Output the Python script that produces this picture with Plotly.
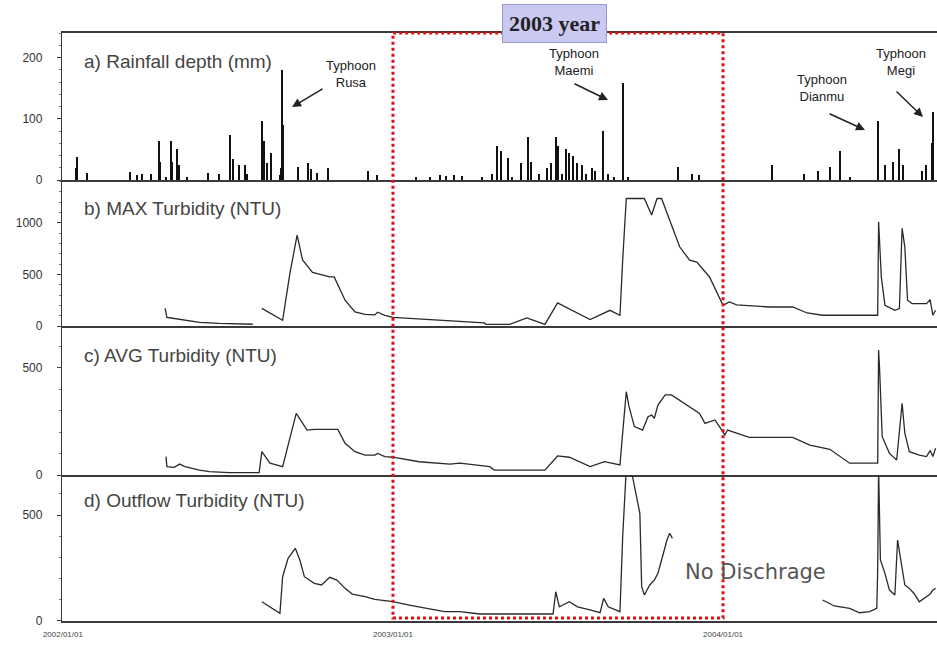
import plotly.graph_objects as go

# ---------------- data ----------------
rain_dates = [
    "2002-01-16", "2002-01-17", "2002-01-28", "2002-03-16", "2002-03-24", "2002-03-30", "2002-04-09",
    "2002-04-17", "2002-04-18", "2002-04-25", "2002-05-01", "2002-05-02", "2002-05-07", "2002-05-10",
    "2002-05-18", "2002-06-11", "2002-06-23", "2002-07-05", "2002-07-08", "2002-07-15", "2002-07-21",
    "2002-07-24", "2002-08-09", "2002-08-12", "2002-08-15", "2002-08-19", "2002-08-29", "2002-08-30",
    "2002-08-31", "2002-09-01", "2002-09-18", "2002-09-29", "2002-10-03", "2002-10-09", "2002-10-21",
    "2002-12-05", "2002-12-15",
    "2003-01-27", "2003-02-11", "2003-02-22", "2003-03-01", "2003-03-10", "2003-03-18",
    "2003-04-10", "2003-04-21", "2003-04-26", "2003-05-01", "2003-05-08", "2003-05-13", "2003-05-23",
    "2003-05-31", "2003-06-03", "2003-06-12", "2003-06-20", "2003-06-25", "2003-06-30", "2003-07-03",
    "2003-07-07", "2003-07-11", "2003-07-15", "2003-07-19", "2003-07-24", "2003-07-29", "2003-08-03",
    "2003-08-09", "2003-08-12", "2003-08-21", "2003-08-27", "2003-09-03", "2003-09-12", "2003-09-13",
    "2003-09-18", "2003-11-12", "2003-11-28", "2003-12-06",
    "2004-02-24", "2004-03-31", "2004-04-15", "2004-04-28", "2004-05-09", "2004-05-20", "2004-06-21",
    "2004-06-28", "2004-07-07", "2004-07-14", "2004-07-18", "2004-08-08", "2004-08-13", "2004-08-19",
    "2004-08-20",
]
rain_mm = [
    20, 37, 11, 13, 8, 10, 10,
    64, 30, 5, 64, 30, 50, 25,
    5, 12, 10, 74, 35, 25, 25,
    10, 97, 64, 28, 44, 8, 20,
    180, 90, 22, 28, 18, 12, 20,
    15, 8,
    5, 5, 8, 6, 8, 6,
    5, 10, 55, 47, 36, 5, 28,
    70, 30, 10, 20, 28, 70, 55,
    10, 50, 44, 40, 28, 25, 10,
    20, 15, 80, 10, 5, 158, 80,
    5, 22, 10, 8,
    25, 10, 15, 22, 47, 5, 97,
    25, 30, 50, 25, 15, 25, 60,
    111,
]

max_dates = [
    "2002-04-24", "2002-04-26", "2002-04-29", "2002-05-21", "2002-06-01", "2002-06-23", "2002-07-30",
    "2002-08-04",
    "2002-08-09", "2002-09-01", "2002-09-09", "2002-09-17", "2002-09-23", "2002-10-04", "2002-10-23",
    "2002-10-28", "2002-11-09", "2002-11-20", "2002-12-01", "2002-12-12", "2002-12-15", "2002-12-23",
    "2003-01-01", "2003-01-19", "2003-02-11", "2003-03-16", "2003-04-12", "2003-04-14", "2003-05-10",
    "2003-05-29", "2003-06-18", "2003-07-02", "2003-08-07", "2003-08-29", "2003-09-09", "2003-09-12",
    "2003-09-16", "2003-10-06", "2003-10-14", "2003-10-20", "2003-10-25", "2003-11-14", "2003-11-25",
    "2003-12-03", "2003-12-17", "2004-01-01", "2004-01-08", "2004-01-16", "2004-02-22", "2004-03-18",
    "2004-04-03", "2004-04-20", "2004-06-20", "2004-06-21", "2004-06-22", "2004-06-24", "2004-06-28",
    "2004-07-09", "2004-07-14", "2004-07-17", "2004-07-20", "2004-07-23", "2004-07-28", "2004-08-13",
    "2004-08-17", "2004-08-20", "2004-08-23",
]
max_ntu = [
    171, 84, 80, 55, 36, 26, 17,
    None,
    171, 55, 510, 880, 640, 520, 475,
    475, 250, 136, 113, 108, 133, 104,
    84, 75, 60, 45, 30, 16, 16,
    78, 16, 223, 62, 152, 104, 638,
    1235, 1235, 1075, 1235, 1235, 767, 638,
    618, 475, 201, 233, 205, 184, 184,
    126, 104, 104, 1010, 848, 475, 201,
    152, 169, 946, 767, 250, 217, 217,
    256, 104, 152,
]

avg_dates = [
    "2002-04-25", "2002-04-26", "2002-05-04", "2002-05-10", "2002-05-16", "2002-06-01", "2002-06-12",
    "2002-07-04", "2002-08-06", "2002-08-09", "2002-08-18", "2002-09-01", "2002-09-16", "2002-09-28",
    "2002-10-06", "2002-11-01", "2002-11-09", "2002-11-20", "2002-12-01", "2002-12-12", "2002-12-15",
    "2002-12-23", "2003-01-01", "2003-01-30", "2003-03-05", "2003-03-16", "2003-04-18", "2003-04-23",
    "2003-06-18", "2003-07-02", "2003-07-15", "2003-08-07", "2003-08-23", "2003-09-09", "2003-09-11",
    "2003-09-16", "2003-09-19", "2003-09-25", "2003-10-04", "2003-10-10", "2003-10-14", "2003-10-17",
    "2003-10-21", "2003-10-29", "2003-11-05", "2003-11-25", "2003-12-06", "2003-12-12", "2003-12-23",
    "2003-12-28", "2004-01-03", "2004-01-06", "2004-01-30", "2004-03-18", "2004-04-06", "2004-04-28",
    "2004-05-20", "2004-06-20", "2004-06-21", "2004-06-22", "2004-06-25", "2004-07-03", "2004-07-11",
    "2004-07-17", "2004-07-20", "2004-07-25", "2004-08-05", "2004-08-13", "2004-08-17", "2004-08-20",
    "2004-08-23",
]
avg_ntu = [
    86, 39, 36, 51, 39, 23, 16,
    11, 11, 109, 55, 39, 288, 210,
    213, 213, 148, 109, 93, 93, 101,
    86, 83, 62, 51, 55, 39, 23,
    23, 89, 83, 39, 62, 47, 148,
    389, 319, 226, 210, 272, 280, 265,
    327, 374, 374, 319, 288, 241, 257,
    226, 187, 210, 176, 176, 140, 120,
    55, 55, 584, 506, 179, 101, 70,
    335, 195, 109, 93, 86, 114, 86,
    125,
]

out_dates = [
    "2002-08-09", "2002-08-18", "2002-08-29", "2002-09-01", "2002-09-07", "2002-09-15", "2002-09-20",
    "2002-09-25", "2002-10-06", "2002-10-14", "2002-10-23", "2002-10-31", "2002-11-09", "2002-11-17",
    "2002-12-01", "2002-12-12", "2003-01-01", "2003-01-19", "2003-02-11", "2003-02-27", "2003-03-16",
    "2003-04-07", "2003-05-10", "2003-06-27", "2003-06-30", "2003-07-04", "2003-07-15", "2003-07-24",
    "2003-08-07", "2003-08-18", "2003-08-22", "2003-08-27", "2003-09-09", "2003-09-12", "2003-09-16",
    "2003-09-23", "2003-10-01", "2003-10-03", "2003-10-06", "2003-10-12", "2003-10-17", "2003-10-21",
    "2003-10-25", "2003-10-31", "2003-11-03", "2003-11-06",
    "2004-01-15",
    "2004-04-20", "2004-05-03", "2004-05-20", "2004-05-31", "2004-06-11", "2004-06-19", "2004-06-20",
    "2004-06-21", "2004-06-23", "2004-06-28", "2004-07-03", "2004-07-09", "2004-07-12", "2004-07-17",
    "2004-07-20", "2004-07-25", "2004-07-30", "2004-08-05", "2004-08-11", "2004-08-17", "2004-08-20",
    "2004-08-23",
]
out_ntu = [
    91, 67, 36, 209, 296, 343, 288,
    209, 178, 170, 206, 193, 154, 127,
    115, 102, 91, 75, 55, 44, 44,
    33, 33, 33, 138, 67, 91, 67,
    52, 39, 107, 67, 44, 398, 720,
    680, 508, 162, 123, 170, 193, 225,
    288, 382, 414, 390,
    None,
    99, 71, 60, 39, 44, 60, 241,
    720, 288, 225, 146, 123, 382, 241,
    170, 154, 131, 91, 107, 127, 146,
    154,
]

panel_titles = ["a) Rainfall depth (mm)", "b) MAX Turbidity (NTU)",
                "c) AVG Turbidity (NTU)", "d) Outflow Turbidity (NTU)"]
y_ranges = [[0, 240], [0, 1414], [0, 696], [0, 689]]
y_tickvals = [[0, 100, 200], [0, 500, 1000], [0, 500], [0, 500]]
y_minor = [20, 100, 100, 100]
x_tickvals = ["2002-01-01", "2003-01-01", "2004-01-01"]
x_ticktext = ["2002/01/01", "2003/01/01", "2004/01/01"]
x_range = ["2001-12-31", "2004-08-24 14:00"]
box_start, box_end = "2003-01-01", "2004-01-01"

# ---------------- figure ----------------
domains = [[0.75, 1.0], [0.5017, 0.75], [0.2483, 0.5017], [0.0, 0.2483]]
LINE = "#2a2a2a"
AXC = "#3a3a3a"
FONT = "Arial, Liberation Sans, sans-serif"

fig = go.Figure()
fig.add_trace(go.Bar(x=rain_dates, y=rain_mm, width=1.4 * 86400000,
                     marker=dict(color="#111111", line=dict(width=0)),
                     xaxis="x", yaxis="y", showlegend=False))
series = [(max_dates, max_ntu), (avg_dates, avg_ntu), (out_dates, out_ntu)]
for i, (xs, ys) in enumerate(series, start=2):
    fig.add_trace(go.Scatter(x=xs, y=ys, mode="lines", connectgaps=False,
                             line=dict(color=LINE, width=1.3),
                             xaxis=f"x{i}", yaxis=f"y{i}", showlegend=False))

layout = dict(
    width=937, height=649,
    margin=dict(l=62, r=0, t=33, b=28),
    paper_bgcolor="white", plot_bgcolor="white",
    font=dict(family=FONT, color="#333"),
    bargap=0,
)
for i in range(4):
    k = "" if i == 0 else str(i + 1)
    layout[f"xaxis{k}"] = dict(
        type="date", range=x_range, domain=[0, 1],
        anchor=f"y{k}", showline=True, linecolor=AXC, linewidth=1.6,
        mirror=(i == 0), showgrid=False, zeroline=False, ticks="",
        tickvals=x_tickvals, ticktext=x_ticktext, ticklabelstandoff=5,
        showticklabels=(i == 3), tickfont=dict(size=8, color="#444"),
        **({} if i == 0 else {"matches": "x"}),
    )
    layout[f"yaxis{k}"] = dict(
        domain=domains[i], range=y_ranges[i], anchor=f"x{k}",
        showline=True, linecolor=AXC, linewidth=1.3, showgrid=False, zeroline=False,
        ticks="outside", ticklen=4, tickcolor=AXC, tickvals=y_tickvals[i],
        ticklabelstandoff=12,
        tickfont=dict(size=12, color="#333"),
        minor=dict(dtick=y_minor[i], ticks="outside", ticklen=2, tickcolor="#777", showgrid=False),
    )
fig.update_layout(**layout)

# red dotted 2003 box
fig.add_shape(type="rect", xref="x", yref="paper", x0=box_start, x1=box_end,
              y0=0.005, y1=1.0, line=dict(color="#e01010", width=3, dash="dot"),
              fillcolor="rgba(0,0,0,0)", layer="above")

# panel titles
title_y = [0.9507, 0.7018, 0.4507, 0.2041]
for t, yy in zip(panel_titles, title_y):
    fig.add_annotation(xref="paper", yref="paper", x=0.023, y=yy, text=t, showarrow=False,
                       xanchor="left", yanchor="middle",
                       font=dict(size=19, color="#444", family=FONT))

# 2003 year label
fig.add_annotation(xref="paper", yref="paper", x=0.5623, y=1.017, text="<b>2003 year</b>",
                   showarrow=False, xanchor="center", yanchor="middle",
                   font=dict(size=22, color="#222", family="Liberation Serif, DejaVu Serif, serif"),
                   bgcolor="#c9c9f2", bordercolor="#9a9ac8", borderwidth=1, borderpad=6)

# typhoon labels and arrows
typhoons = [
    ("Typhoon<br>Rusa", 0.3303, 0.930, 0.2629, 0.8741, 32, -19),
    ("Typhoon<br>Maemi", 0.5851, 0.9507, 0.624, 0.886, -35, -17),
    ("Typhoon<br>Dianmu", 0.8686, 0.9065, 0.9177, 0.835, -37, -17),
    ("Typhoon<br>Megi", 0.9589, 0.9507, 0.984, 0.857, -28, -27),
]
for txt, tx, ty, hx, hy, ax, ay in typhoons:
    fig.add_annotation(xref="paper", yref="paper", x=tx, y=ty, text=txt, showarrow=False,
                       xanchor="center", yanchor="middle",
                       font=dict(size=13, color="#222", family=FONT))
    fig.add_annotation(xref="paper", yref="paper", x=hx, y=hy, text="", showarrow=True,
                       ax=ax, ay=ay, arrowhead=2, arrowsize=1.2, arrowwidth=1.5,
                       arrowcolor="#222")

fig.add_annotation(xref="paper", yref="paper", x=0.792, y=0.0833, text="No Dischrage",
                   showarrow=False, xanchor="center", yanchor="middle",
                   font=dict(size=21, color="#555", family="DejaVu Sans, sans-serif"))

fig.write_html("out.html", config={"displayModeBar": False},
               post_script="document.body.style.margin='0';document.body.style.overflow='hidden';")
